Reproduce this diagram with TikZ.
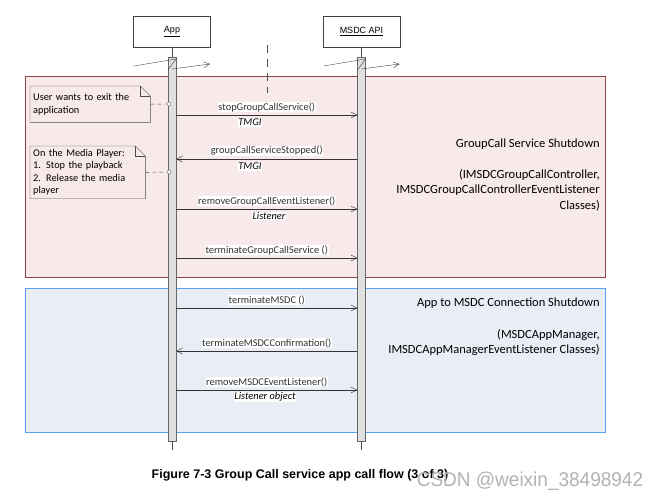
\documentclass[tikz,border=0pt]{standalone}
\usepackage{fontspec}
\setmainfont{Carlito}
\newfontfamily\arialfont{Liberation Sans}
\usetikzlibrary{arrows.meta, calc}

\definecolor{gcsfill}{HTML}{F8EAEA}
\definecolor{gcsline}{HTML}{8B4444}
\definecolor{connfill}{HTML}{E9EEF6}
\definecolor{connline}{HTML}{5AA2F5}

\begin{document}
\begin{tikzpicture}[
    x=1pt, y=-1pt,
    font=\fontsize{10.5}{12}\selectfont,
    headbox/.style={rectangle, draw=black!75, fill=white, minimum width=77pt, minimum height=31pt,
                    font=\arialfont\fontsize{9}{10}\selectfont},
    bar/.style={rectangle, draw=black!60, fill=black!12, minimum width=8pt, inner sep=0pt},
    group/.style={rectangle, line width=1.3pt, minimum width=580pt, inner sep=0pt, anchor=north west},
    msg/.style={-{Straight Barb[length=6pt, width=6pt]}, black!80},
    lbl/.style={fill=white, inner sep=0.6pt, font=\fontsize{10.4}{12}\selectfont},
    arg/.style={fill=white, inner sep=0.6pt, font=\itshape\fontsize{10.4}{12}\selectfont},
    notebox/.style={align=left, anchor=north west, inner sep=3pt, font=\fontsize{10.3}{12.5}\selectfont},
    dot/.style={circle, draw=black!60, fill=white, inner sep=0pt, minimum size=4pt},
    notelink/.style={dashed, dash pattern=on 4pt off 3pt, black!70},
    sidetext/.style={align=right, anchor=north east, inner sep=0pt, font=\fontsize{12.5}{15.5}\selectfont}
]
\useasboundingbox (0,0) rectangle (661,498);

% --- Fragmentos ---
\node[group, draw=gcsline, fill=gcsfill, minimum height=201pt] (gcs) at (25,76) {};
\node[group, draw=connline, fill=connfill, minimum height=144pt] (conn) at (25,288) {};

% --- Participantes ---
\node[headbox] (app) at (172,31.5) {\underline{App}};
\node[headbox] (msdc) at (361.5,31.5) {\underline{MSDC API}};

\node[bar, minimum height=384pt, anchor=north] (appbar) at (172,57) {};
\node[bar, minimum height=384pt, anchor=north] (msdcbar) at (361.5,57) {};
\coordinate (append) at (172,450);
\coordinate (msdcend) at (361.5,450);

\draw[black!70] (app) -- (appbar);
\draw[black!70] (msdc) -- (msdcbar);
\draw[black!70] (appbar) -- (append);
\draw[black!70] (msdcbar) -- (msdcend);

% creacion de las lineas de vida
\foreach \b in {appbar, msdcbar} {
    \draw[black!75] ($(\b.north)+(-38,9)$) -- ($(\b.north)+(4,2)$);
    \draw[black!75] ($(\b.north)+(-4,13)$) -- ($(\b.north)+(4,2)$);
    \draw[-{Straight Barb[length=6pt, width=6pt]}, black!75] ($(\b.north)+(0,12)$) -- ($(\b.north)+(38,7)$);
}

% --- Limite ---
\coordinate (limtop) at (267,45);
\coordinate (limbot) at (267,93);
\draw[black!70, dash pattern=on 8pt off 6pt] (limtop) -- (limbot);

% --- Notas ---
\node[notebox, text width=114pt, minimum height=36pt] (note1) at (30,86)
    {User wants to exit the\\application};
\node[notebox, text width=109pt, minimum height=52pt] (note2) at (30,146)
    {On the Media Player:\\1. Stop the playback\\2. Release the media\\player};
\foreach \n in {note1, note2} {
    \draw[black!70] (\n.south west) -- (\n.north west) -- ($(\n.north east)+(-10,0)$)
        -- ($(\n.north east)+(0,10)$) -- (\n.south east) -- cycle;
    \draw[black!70] ($(\n.north east)+(-10,0)$) -- ($(\n.north east)+(-10,10)$) -- ($(\n.north east)+(0,10)$);
}
\node[dot] (dot1) at (169,104) {};
\node[dot] (dot2) at (169,172) {};
\draw[notelink] (note1.east) -- (dot1);
\draw[notelink] (note2.east) -- (dot2);

% --- Mensajes ---
\coordinate (r1) at (0,115);
\coordinate (r2) at (0,159);
\coordinate (r3) at (0,209);
\coordinate (r4) at (0,258);
\coordinate (r5) at (0,308);
\coordinate (r6) at (0,351);
\coordinate (r7) at (0,390);

\draw[msg] (appbar.east |- r1) -- node[lbl, above=2.5pt] {stopGroupCallService()} (msdcbar.west |- r1);
\node[arg] (a1) at (250,122.5) {TMGI};
\draw[msg] (msdcbar.west |- r2) -- node[lbl, above=2.5pt] {groupCallServiceStopped()} (appbar.east |- r2);
\node[arg] (a2) at (250,166.5) {TMGI};
\draw[msg] (appbar.east |- r3) -- node[lbl, above=2.5pt] {removeGroupCallEventListener()} (msdcbar.west |- r3);
\node[arg] (a3) at (269,216) {Listener};
\draw[msg] (appbar.east |- r4) -- node[lbl, above=2.5pt] {terminateGroupCallService ()} (msdcbar.west |- r4);

\draw[msg] (appbar.east |- r5) -- node[lbl, above=2.5pt] {terminateMSDC ()} (msdcbar.west |- r5);
\draw[msg] (msdcbar.west |- r6) -- node[lbl, above=2.5pt] {terminateMSDCConfirmation()} (appbar.east |- r6);
\draw[msg] (appbar.east |- r7) -- node[lbl, above=2.5pt] {removeMSDCEventListener()} (msdcbar.west |- r7);
\node[arg] (a7) at (265,397) {Listener object};

% --- Textos de los fragmentos ---
\node[sidetext] (gcstext) at (600,139)
    {GroupCall Service Shutdown\\[15pt](IMSDCGroupCallController,\\IMSDCGroupCallControllerEventListener\\Classes)};
\node[sidetext] (conntext) at (600,298)
    {App to MSDC Connection Shutdown\\[16pt](MSDCAppManager,\\IMSDCAppManagerEventListener Classes)};

% --- Pie ---
\node[font=\arialfont\bfseries\fontsize{12.5}{14}\selectfont] (caption) at (300,475)
    {Figure 7-3 Group Call service app call flow (3 of 3)};
\node[text=black!30, font=\arialfont\fontsize{20}{22}\selectfont] (mark) at (530,481)
    {\scalebox{0.95}[1]{CSDN @weixin\_38498942}};

\end{tikzpicture}
\end{document}
